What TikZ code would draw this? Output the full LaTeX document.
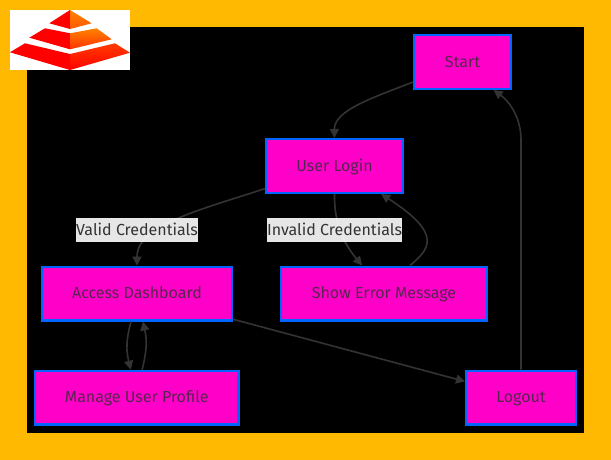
\documentclass[tikz,border=0pt]{standalone}
\usepackage{fontspec}
\setmainfont{Fira Sans}
\usetikzlibrary{arrows.meta}
\definecolor{amberbg}{HTML}{FFB900}
\definecolor{boxfill}{HTML}{FF00C8}
\definecolor{boxline}{HTML}{0066FF}
\definecolor{boxtext}{HTML}{55264F}
\definecolor{edgeline}{HTML}{333333}
\tikzset{
	flowbox/.style={draw=boxline,fill=boxfill,line width=2.4pt,text=boxtext,font=\fontsize{16}{19}\selectfont,minimum height=53.6pt,inner sep=0pt,text height=13pt,text depth=3pt},
	edgelabel/.style={fill=white,fill opacity=.9,text opacity=1,text=edgeline,font=\fontsize{16}{19}\selectfont,minimum height=24pt,inner sep=0pt,text height=13pt,text depth=3pt},
	flow/.style={edgeline,line width=1.6pt,-{Triangle[length=9pt,width=9pt]}}
}
\begin{document}
\begin{tikzpicture}[x=1pt,y=-1pt]
		\fill[amberbg] (0,0) rectangle (611,460);
		\fill[black] (27,27) rectangle (584,433);
		\fill[white] (10,10) rectangle (130,70);
		\fill[red] (70,10)--(49.3,23.3)--(70,29)--cycle;
		\shade[top color=orange,bottom color={rgb,255:red,255;green,90;blue,0}] (70,10)--(91.7,23.3)--(70,29)--cycle;
		\fill[red] (45,28.3)--(29.3,37.7)--(70,49.3)--(70,33.3)--cycle;
		\shade[top color={rgb,255:red,255;green,130;blue,0},bottom color={rgb,255:red,255;green,50;blue,0}] (96.7,28.3)--(111.7,39.3)--(70,49.3)--(70,33.3)--cycle;
		\fill[red] (25,43.3)--(10,52.3)--(70,70)--(70,54)--cycle;
		\shade[top color={rgb,255:red,255;green,60;blue,0},bottom color=red] (115,43.3)--(130,52.7)--(70,70)--(70,54)--cycle;
		\node[flowbox,minimum width=96.6pt] (start) at (462.5,62) {Start};
		\node[flowbox,minimum width=136.6pt] (login) at (334.5,166) {User Login};
		\node[flowbox,minimum width=189.6pt] (dashboard) at (137,293.5) {Access Dashboard};
		\node[flowbox,minimum width=205.6pt] (errormsg) at (384,293.5) {Show Error Message};
		\node[flowbox,minimum width=203.6pt] (profile) at (136.7,397.7) {Manage User Profile};
		\node[flowbox,minimum width=109.6pt] (logout) at (521,397.5) {Logout};
		\draw[flow] (start.202) .. controls (375,97) and (334,110) .. (login.north);
		\draw[flow] (login.198) .. controls (200,210) and (137,225) .. (dashboard.north);
		\draw[flow] (login.south) .. controls (334,225) and (345,245) .. (errormsg.128);
		\draw[flow] (errormsg.47) .. controls (428,250) and (445,235) .. (login.-31);
		\draw[flow] (dashboard.258) .. controls (126,340) and (126,350) .. (profile.102);
		\draw[flow] (profile.79) .. controls (147,350) and (147,340) .. (dashboard.-78);
		\draw[flow] (dashboard.-15) -- (logout.164);
		\draw[flow] (logout.north) -- (521,140) .. controls (521,118) and (510,102) .. (start.-42);
		\node[edgelabel,minimum width=122pt] (validlabel) at (137,230) {Valid Credentials};
		\node[edgelabel,minimum width=135pt] (invalidlabel) at (334.5,230) {Invalid Credentials};
	\end{tikzpicture}
\end{document}
